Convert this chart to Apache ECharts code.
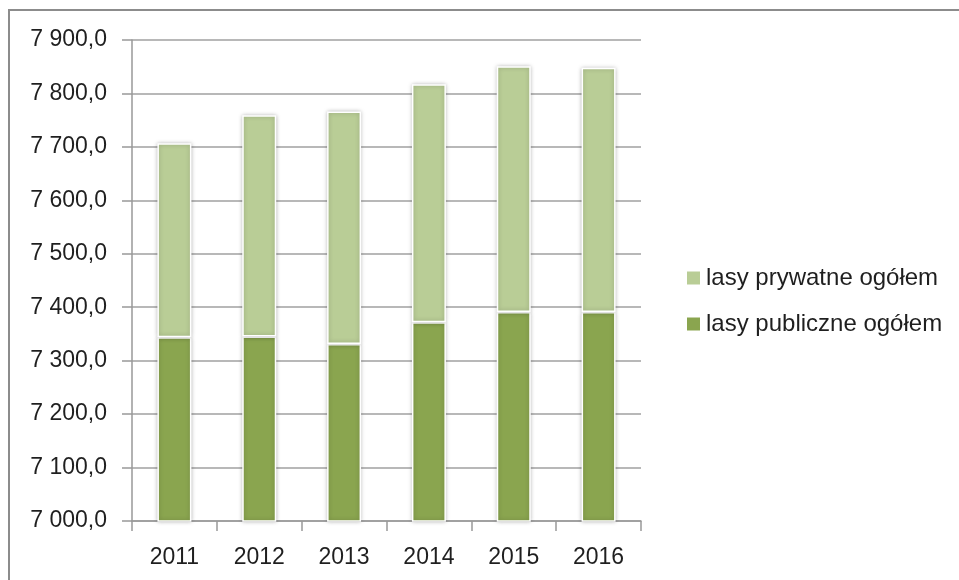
<!DOCTYPE html>
<html><head><meta charset="utf-8">
<script src="https://cdn.jsdelivr.net/npm/echarts@6/dist/echarts.min.js"></script>
<style>html,body{margin:0;padding:0;background:#fff}#c{width:959px;height:580px}</style>
</head><body><div id="c"></div>
<script>
const years = ['2011','2012','2013','2014','2015','2016'];
const publicForests = [7344, 7345, 7331, 7372, 7391, 7391];
const privateForests = [363, 414, 435, 445, 460, 457];
const namePrivate = 'lasy prywatne ogółem';
const namePublic = 'lasy publiczne ogółem';
const yTicks = { min: 7000, max: 7900, interval: 100 };

const chart = echarts.init(document.getElementById('c'));
const font = 'Liberation Sans, Arial, sans-serif';
const barStyle = (c) => ({ color: c, borderColor: '#ffffff', borderWidth: 1.5, shadowBlur: 4, shadowColor: 'rgba(0,0,0,0.25)' });
chart.setOption({
  animation: false,
  textStyle: { fontFamily: font },
  graphic: [{ type: 'rect', shape: { x: 9, y: 10, width: 1000, height: 600 }, style: { fill: 'none', stroke: '#8c8c8c', lineWidth: 2 }, silent: true }],
  grid: { left: 132, right: 318, top: 40, bottom: 59 },
  legend: {
    orient: 'vertical', left: 680, top: 261, itemWidth: 15, itemHeight: 15, itemGap: 22,
    data: [namePrivate, namePublic],
    textStyle: { fontSize: 24, color: '#1f1f1f', fontFamily: font },
    icon: 'rect'
  },
  xAxis: {
    type: 'category', data: years,
    axisLine: { lineStyle: { color: '#999', width: 1.5 } },
    axisTick: { show: true, length: 10, lineStyle: { color: '#999', width: 1.5 } },
    axisLabel: { fontSize: 23, color: '#1f1f1f', margin: 25, fontFamily: font }
  },
  yAxis: {
    type: 'value', min: yTicks.min, max: yTicks.max, interval: yTicks.interval,
    axisLine: { show: true, lineStyle: { color: '#999', width: 1.5 } },
    axisTick: { show: true, length: 10, lineStyle: { color: '#999', width: 1.5 } },
    splitLine: { lineStyle: { color: '#a0a0a0', width: 1.5 } },
    axisLabel: {
      fontSize: 23, color: '#1f1f1f', margin: 25, fontFamily: font,
      formatter: v => { const s = Math.round(v).toString(); return s.slice(0, s.length - 3) + ' ' + s.slice(-3) + ',0'; }
    }
  },
  series: [
    { name: namePublic, type: 'bar', stack: 't', barWidth: 34, data: publicForests, itemStyle: barStyle('#8aa54f') },
    { name: namePrivate, type: 'bar', stack: 't', barWidth: 34, data: privateForests, itemStyle: barStyle('#b9cd96') }
  ]
});
</script></body></html>
